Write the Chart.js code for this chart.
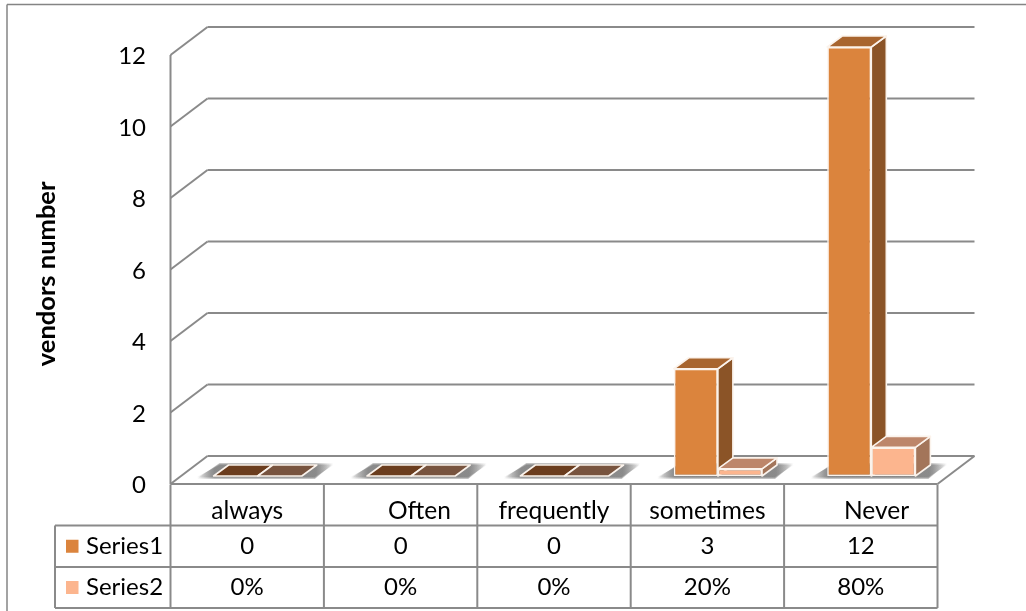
<!DOCTYPE html>
<html>
<head>
<meta charset="utf-8">
<style>html,body{margin:0;padding:0;background:#fff}canvas{display:block}</style>
<script src="https://cdn.jsdelivr.net/npm/chart.js@4/dist/chart.umd.min.js"></script>
</head>
<body>
<canvas id="c" width="1026" height="611"></canvas>
<script>
// Vendor survey answers; the second series is the share of all vendors.
const categories = ['always', '      Often', 'frequently', 'sometimes', '     Never'];
const series1Name = 'Series1';
const series2Name = 'Series2';
const series1Values = [0, 0, 0, 3, 12];
const series2Values = [0, 0, 0, 0.2, 0.8];
const axisTitle = 'vendors number    ';

const FONT = 'Lato, Carlito, sans-serif';
const GRID = '#8a8a8a';
const EDGE = '#fbf3ec';
const FACES = [
  { front: '#db843d', side: '#8b5427', top: '#a8652f', flat: '#6b3d1e' },
  { front: '#fcb58e', side: '#a3755a', top: '#bd866a', flat: '#78543f' }
];

// Offsets of the 3D planes from the plane the bars stand on.
const BAR_DEPTH = { dx: 15, dy: -11 };
const BACK = { dx: 26.5, dy: -20 };
const FRONT = { dx: -10.5, dy: 8 };

function poly(ctx, pts) {
  ctx.beginPath();
  pts.forEach((p, i) => i ? ctx.lineTo(p[0], p[1]) : ctx.moveTo(p[0], p[1]));
  ctx.closePath();
}
function seg(ctx, x1, y1, x2, y2) {
  ctx.beginPath();
  ctx.moveTo(x1, y1);
  ctx.lineTo(x2, y2);
  ctx.stroke();
}

const box3d = {
  id: 'box3d',
  // Outer frame, back wall, floor, floor shadows, then the depth faces of the bars.
  beforeDatasetsDraw(chart) {
    const { ctx, scales: { x, y } } = chart;
    const L = chart.chartArea.left, R = chart.chartArea.right;
    const { dx, dy } = BAR_DEPTH;
    ctx.save();
    ctx.strokeStyle = '#848484';
    ctx.lineWidth = 1.5;
    seg(ctx, 7, 611, 7, 4.5);
    seg(ctx, 7, 4.5, 1026, 4.5);

    ctx.strokeStyle = GRID;
    ctx.lineWidth = 2;
    y.ticks.forEach(t => {
      const py = y.getPixelForValue(t.value);
      seg(ctx, L + FRONT.dx, py + FRONT.dy, L + BACK.dx, py + BACK.dy);
      seg(ctx, L + BACK.dx, py + BACK.dy, R + BACK.dx, py + BACK.dy);
    });
    const base = y.getPixelForValue(0), top = y.getPixelForValue(12);
    seg(ctx, L + FRONT.dx, top + FRONT.dy, L + FRONT.dx, base + FRONT.dy);
    seg(ctx, L + FRONT.dx, base + FRONT.dy, R + FRONT.dx, base + FRONT.dy);
    seg(ctx, R + FRONT.dx, base + FRONT.dy, R + BACK.dx, base + BACK.dy);

    // Soft floor shadow: nested slanted bands fading out sideways and at the edges.
    const m0 = chart.getDatasetMeta(0).data, m1 = chart.getDatasetMeta(1).data;
    m0.forEach((el, i) => {
      const a = el.x - el.width / 2, b = m1[i].x + m1[i].width / 2;
      const x0 = a - 17, x1 = b + dx + 17;
      const g = ctx.createLinearGradient(x0, 0, x1, 0);
      const span = x1 - x0;
      g.addColorStop(0, 'rgba(110,110,110,0)');
      g.addColorStop(18 / span, 'rgba(110,110,110,0.42)');
      g.addColorStop((span - 18) / span, 'rgba(110,110,110,0.42)');
      g.addColorStop(1, 'rgba(110,110,110,0)');
      ctx.fillStyle = g;
      [2, 1, 0].forEach(s => {
        poly(ctx, [
          [a - 17, base + 1 + s], [b + 13, base + 1 + s],
          [b + dx + 17, base + dy - s], [a + dx - 9, base + dy - s]
        ]);
        ctx.fill();
      });
    });

    ctx.strokeStyle = EDGE;
    ctx.lineWidth = 1.6;
    ctx.lineJoin = 'round';
    FACES.forEach((face, d) => {
      chart.getDatasetMeta(d).data.forEach(el => {
        const a = el.x - el.width / 2, b = el.x + el.width / 2;
        const flat = Math.abs(el.base - el.y) < 0.5;
        if (!flat) {
          poly(ctx, [[b, el.y], [b + dx, el.y + dy], [b + dx, el.base + dy], [b, el.base]]);
          ctx.fillStyle = face.side;
          ctx.fill();
          ctx.stroke();
        }
        poly(ctx, [[a, el.y], [b, el.y], [b + dx, el.y + dy], [a + dx, el.y + dy]]);
        ctx.fillStyle = flat ? face.flat : face.top;
        ctx.fill();
        ctx.stroke();
      });
    });
    ctx.restore();
  },
  // Data table beneath the plot.
  afterDraw(chart) {
    const { ctx, scales: { x, y } } = chart;
    const cell = x.getPixelForValue(1) - x.getPixelForValue(0);
    const floor = y.getPixelForValue(0) + FRONT.dy + 0.5;
    const rows = [floor, floor + 41, floor + 82.5, floor + 123.5];
    const legendLeft = 55;
    const col = i => x.getPixelForValue(i) + FRONT.dx;
    ctx.save();
    ctx.strokeStyle = GRID;
    ctx.lineWidth = 2;
    categories.forEach((c, i) => {
      seg(ctx, col(i) - cell / 2, rows[0], col(i) - cell / 2, rows[3]);
    });
    const tableRight = col(categories.length - 1) + cell / 2;
    seg(ctx, tableRight, rows[0], tableRight, rows[3]);
    seg(ctx, legendLeft, rows[1], legendLeft, rows[3]);
    seg(ctx, legendLeft, rows[1], tableRight, rows[1]);
    seg(ctx, legendLeft, rows[2], tableRight, rows[2]);
    seg(ctx, legendLeft, rows[3], tableRight, rows[3]);

    const names = [series1Name, series2Name];
    const rowText = [series1Values.map(String), series2Values.map(v => Math.round(v * 100) + '%')];
    ctx.font = '24px ' + FONT;
    ctx.textBaseline = 'middle';
    rowText.forEach((texts, r) => {
      const mid = (rows[r + 1] + rows[r + 2]) / 2;
      ctx.fillStyle = FACES[r].front;
      ctx.fillRect(66, mid - 6.5, 12.5, 13);
      ctx.fillStyle = '#000';
      ctx.textAlign = 'left';
      ctx.fillText(names[r], 86, mid);
      ctx.textAlign = 'center';
      texts.forEach((t, i) => ctx.fillText(t, col(i), mid));
    });
    ctx.restore();
  }
};

new Chart(document.getElementById('c'), {
  type: 'bar',
  data: {
    labels: categories,
    datasets: [
      { label: series1Name, data: series1Values, backgroundColor: FACES[0].front },
      { label: series2Name, data: series2Values, backgroundColor: FACES[1].front }
    ]
  },
  options: {
    responsive: false,
    animation: false,
    layout: { padding: { left: 0, right: 78, top: 47, bottom: 0 } },
    datasets: {
      bar: {
        categoryPercentage: 0.575,
        barPercentage: 1,
        borderWidth: 1.6,
        borderColor: EDGE,
        borderSkipped: false
      }
    },
    plugins: { legend: { display: false }, tooltip: { enabled: false } },
    scales: {
      x: {
        grid: { display: false, drawTicks: false },
        border: { display: false },
        ticks: {
          color: '#000',
          font: { family: FONT, size: 24.5 },
          padding: 20,
          labelOffset: FRONT.dx,
          autoSkip: false,
          maxRotation: 0,
          minRotation: 0
        },
        afterFit(scale) { scale.height = 135; }
      },
      y: {
        min: 0,
        max: 12,
        grid: { display: false, drawTicks: false },
        border: { display: false },
        ticks: {
          stepSize: 2,
          color: '#000',
          font: { family: FONT, size: 24 },
          padding: 35,
          labelOffset: FRONT.dy + 1.5
        },
        title: {
          display: true,
          text: axisTitle,
          color: '#000',
          font: { family: FONT, size: 25.5, weight: 'bold' },
          padding: { top: 31, bottom: 0 }
        },
        // Tick padding is a horizontal gap here, so it must not push the plot down.
        afterFit(scale) {
          scale.width = 181;
          scale.paddingTop = 0;
          scale.paddingBottom = 0;
        }
      }
    }
  },
  plugins: [box3d]
});
</script>
</body>
</html>
